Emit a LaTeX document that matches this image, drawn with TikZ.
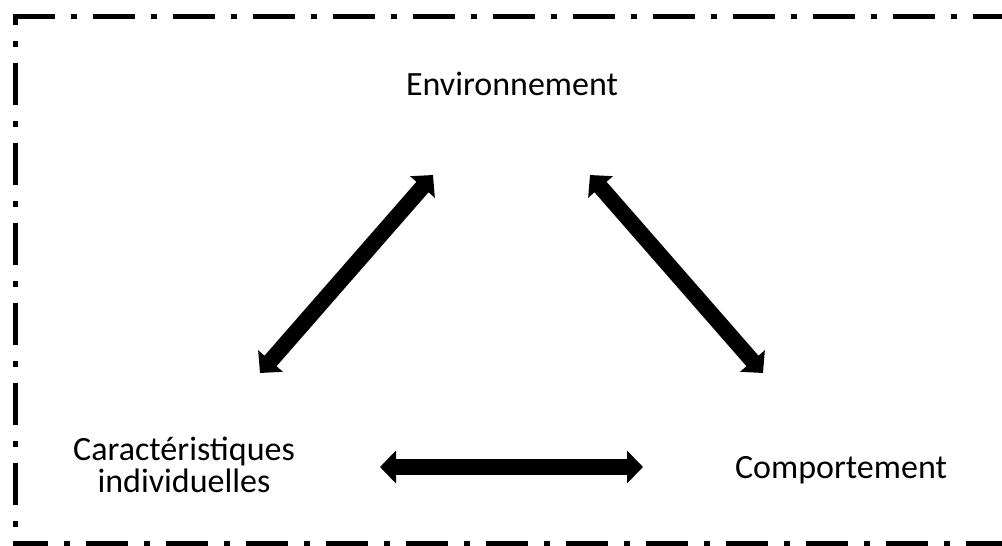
\documentclass[tikz,border=0pt]{standalone}
\usepackage{fontspec}
\setmainfont{Carlito}
\usetikzlibrary{arrows.meta}
\begin{document}
\begin{tikzpicture}[x=1pt,y=-1pt,
  frameline/.style={line width=5pt,line cap=butt,dash pattern=on 42pt off 16pt on 6pt off 16pt},
  bigarrow/.style={line width=16pt,{Triangle[width=32pt,length=16pt]}-{Triangle[width=32pt,length=16pt]}},
  label/.style={font=\fontsize{34}{32}\selectfont,inner sep=0pt,anchor=base,align=center}]
\useasboundingbox (0,0) rectangle (1002,546);
% frame
\coordinate (tl) at (15,16);
\coordinate (tr) at (1005,16);
\coordinate (br) at (1005,543);
\coordinate (bl) at (15,543);
\draw[frameline] ([xshift=-2.5pt]tl) -- ([xshift=2.5pt]tr);
\draw[frameline,dash phase=36pt] ([yshift=-2.5pt]tl) -- ([yshift=2.5pt]bl);
\draw[frameline,dash phase=7pt] ([xshift=-2.5pt]bl) -- ([xshift=2.5pt]br);
\draw[frameline,dash phase=30pt] ([yshift=-2.5pt]tr) -- ([yshift=2.5pt]br);
% labels
\node[label] (env) at (512,95) {Environnement};
\node[label] (car) at (184,492) {Caractéristiques\\individuelles};
\node[label] (com) at (841,478) {Comportement};
% arrow ends
\coordinate (a1) at (433,175);
\coordinate (a2) at (260,373);
\coordinate (b1) at (590,175);
\coordinate (b2) at (763,373);
\coordinate (c1) at (380,467);
\coordinate (c2) at (643,467);
\draw[bigarrow] (a2) -- (a1);
\draw[bigarrow] (b1) -- (b2);
\draw[bigarrow] (c1) -- (c2);
\end{tikzpicture}
\end{document}
